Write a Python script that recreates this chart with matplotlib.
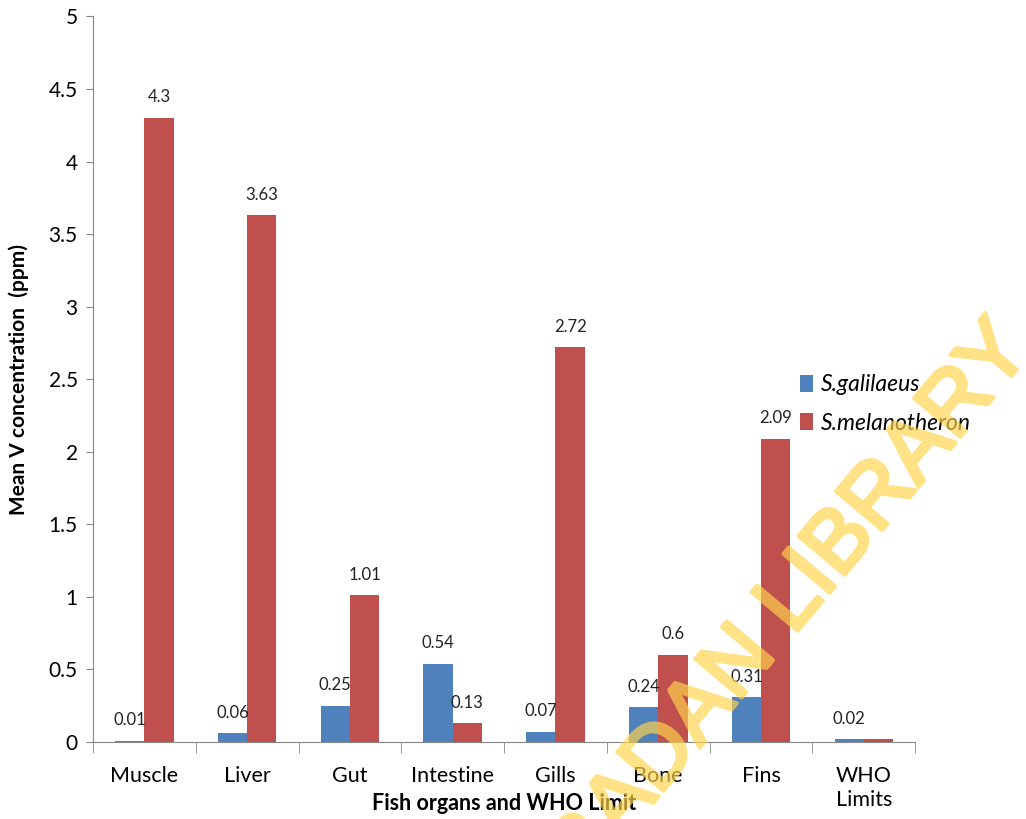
import numpy as np
import matplotlib.pyplot as plt
import matplotlib.patheffects as pe

# Datos
organs = ['Muscle', 'Liver', 'Gut', 'Intestine', 'Gills', 'Bone', 'Fins', 'WHO\nLimits']
galilaeus = [0.01, 0.06, 0.25, 0.54, 0.07, 0.24, 0.31, 0.02]
melanotheron = [4.3, 3.63, 1.01, 0.13, 2.72, 0.6, 2.09, 0.02]
galilaeus_labels = ['0.01', '0.06', '0.25', '0.54', '0.07', '0.24', '0.31', '0.02']
melanotheron_labels = ['4.3', '3.63', '1.01', '0.13', '2.72', '0.6', '2.09', '']

plt.rcParams['font.family'] = ['Lato', 'DejaVu Sans']

fig = plt.figure(figsize=(10.26, 8.19), dpi=100)
ax = fig.add_axes([0.0906, 0.094, 0.8014, 0.886])

x = np.arange(len(organs))
w = 0.285
b1 = ax.bar(x - w / 2, galilaeus, w, color='#4F81BD', label='S.galilaeus')
b2 = ax.bar(x + w / 2, melanotheron, w, color='#C0504D', label='S.melanotheron')

for bar, lab in zip(b1, galilaeus_labels):
    ax.annotate(lab, (bar.get_x() + bar.get_width() / 2, bar.get_height()),
                xytext=(0, 9), textcoords='offset points', ha='center', va='bottom',
                fontsize=12, color='#222222')
for bar, lab in zip(b2, melanotheron_labels):
    ax.annotate(lab, (bar.get_x() + bar.get_width() / 2, bar.get_height()),
                xytext=(0, 9), textcoords='offset points', ha='center', va='bottom',
                fontsize=12, color='#222222')

ax.set_xlim(-0.5, len(organs) - 0.5)
ax.set_ylim(0, 5)
ax.set_yticks(np.arange(0, 5.01, 0.5))
ax.set_yticklabels(['0', '0.5', '1', '1.5', '2', '2.5', '3', '3.5', '4', '4.5', '5'])
ax.set_xticks(x)
ax.set_xticklabels(organs, fontsize=15.5, linespacing=1.25)
ax.set_xticks(np.arange(-0.5, len(organs)), minor=True)
ax.tick_params(axis='x', which='major', length=0, pad=17)
ax.tick_params(axis='x', which='minor', length=8, color='#868686', direction='out')
ax.tick_params(axis='y', length=5, color='#868686', labelsize=15, pad=6)

for s in ['top', 'right']:
    ax.spines[s].set_visible(False)
for s in ['left', 'bottom']:
    ax.spines[s].set_color('#868686')

ax.set_xlabel('Fish organs and WHO Limit', fontsize=15.5, fontweight='bold', labelpad=-12)
ax.set_ylabel('Mean V concentration  (ppm)', fontsize=15, fontweight='bold', labelpad=14)

leg = ax.legend(loc='upper left', bbox_to_anchor=(0.835, 0.535), frameon=False,
                prop={'style': 'italic', 'size': 16.5}, handlelength=0.55,
                handleheight=0.75, handletextpad=0.35, labelspacing=0.75)


# marca de agua: opaca con trazo, luego se baja la opacidad entera
def fade(img, dpi):
    img = img.copy()
    img[..., 3] *= 0.68
    return img, 0, 0


wm = '#FFD34D'
t = fig.text(0.99, 0.59, 'UNIVERSITY OF IBADAN LIBRARY', fontsize=63, color=wm,
             family='Liberation Sans', rotation=50, rotation_mode='anchor',
             ha='right', va='center',
             path_effects=[pe.withStroke(linewidth=3, foreground=wm)])
t.set_agg_filter(fade)

fig.savefig('out.png', dpi=100)
